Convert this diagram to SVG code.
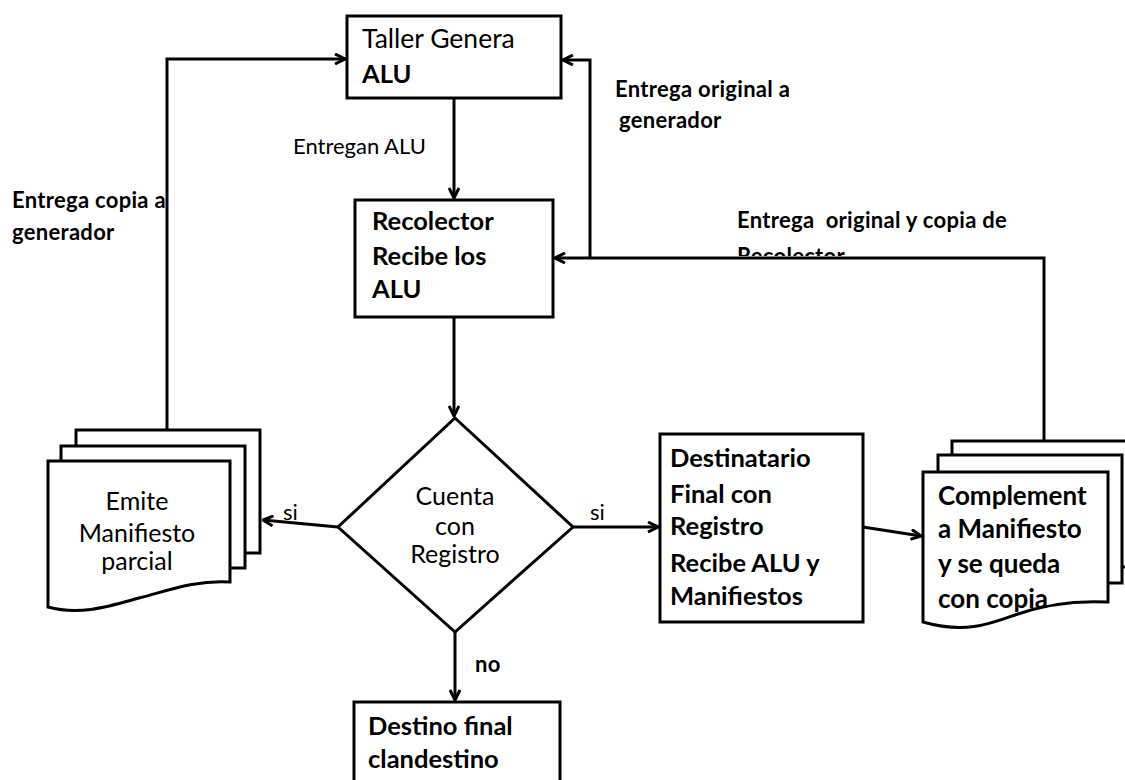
<svg xmlns="http://www.w3.org/2000/svg" width="1125" height="780" viewBox="0 0 1125 780">
  <style>
    .shape { fill: #fff; stroke: #000; stroke-width: 3; }
    .conn { fill: none; stroke: #000; stroke-width: 3; }
    text { font-family: Lato, "Liberation Sans", sans-serif; fill: #000; }
    .box { font-size: 25.5px; font-weight: bold; }
    .boxn { font-size: 25px; font-weight: normal; }
    .lbl { font-size: 22px; font-weight: bold; letter-spacing: 0.3px; }
    .lbln { font-size: 22px; font-weight: normal; }
    .mid { text-anchor: middle; }
  </style>
  <defs>
    <marker id="arrow" markerUnits="userSpaceOnUse" viewBox="0 0 12 12" refX="11" refY="6" markerWidth="12" markerHeight="12" orient="auto">
      <path d="M1,1 L11,6 L1,11" fill="none" stroke="#000" stroke-width="3"/>
    </marker>
    <clipPath id="clipTop">
      <rect x="700" y="200" width="400" height="56"/>
    </clipPath>
  </defs>

  <!-- connectors -->
  <g id="connectors">
    <path class="conn" d="M167,430 V59 H345" marker-end="url(#arrow)"/>
    <path class="conn" d="M454,98 V198" marker-end="url(#arrow)"/>
    <path class="conn" d="M454,317 V416" marker-end="url(#arrow)"/>
    <path class="conn" d="M338,527 L263,520" marker-end="url(#arrow)"/>
    <path class="conn" d="M573,527 H658" marker-end="url(#arrow)"/>
    <path class="conn" d="M863,527 L921,536" marker-end="url(#arrow)"/>
    <path class="conn" d="M455,632 V700" marker-end="url(#arrow)"/>
    <path class="conn" d="M1044,441 V258 H555" marker-end="url(#arrow)"/>
    <path class="conn" d="M590,258 V60 H563" marker-end="url(#arrow)"/>
  </g>

  <!-- connector labels -->
  <g id="labels">
    <text class="lbl" x="12" y="208">Entrega copia a</text>
    <text class="lbl" x="12" y="240">generador</text>
    <text class="lbln" x="293" y="154">Entregan ALU</text>
    <text class="lbl" x="615" y="97">Entrega original a</text>
    <text class="lbl" x="619" y="128">generador</text>
    <text class="lbl" x="737" y="228" xml:space="preserve">Entrega  original y copia de</text>
    <text class="lbl" x="737" y="264" clip-path="url(#clipTop)">Recolector</text>
    <text class="lbln" x="283" y="520">si</text>
    <text class="lbln" x="590" y="520">si</text>
    <text class="lbl" x="475" y="672">no</text>
  </g>

  <g id="taller">
    <rect class="shape" x="347" y="16" width="214" height="82"/>
    <text class="boxn" x="362" y="48" style="font-size:26.5px">Taller Genera</text>
    <text class="box" x="362" y="83">ALU</text>
  </g>

  <g id="recolector">
    <rect class="shape" x="355" y="200" width="198" height="117"/>
    <text class="box" x="372" y="230">Recolector</text>
    <text class="box" x="372" y="265">Recibe los</text>
    <text class="box" x="372" y="298">ALU</text>
  </g>

  <g id="decision">
    <polygon class="shape" points="455,418 573,527 455,632 338,527"/>
    <text class="boxn mid" x="455" y="505">Cuenta</text>
    <text class="boxn mid" x="455" y="535">con</text>
    <text class="boxn mid" x="455" y="563">Registro</text>
  </g>

  <g id="emite">
    <rect class="shape" x="76" y="430" width="184" height="123"/>
    <rect class="shape" x="61" y="446" width="184" height="122"/>
    <path class="shape" d="M48,461 H230 V582 C195,580 170,590 139,598 C110,606 80,616 48,607 Z"/>
    <text class="boxn mid" x="137" y="510">Emite</text>
    <text class="boxn mid" x="137" y="542">Manifiesto</text>
    <text class="boxn mid" x="137" y="570">parcial</text>
  </g>

  <g id="destinatario">
    <rect class="shape" x="660" y="434" width="203" height="188"/>
    <text class="box" x="670" y="467">Destinatario</text>
    <text class="box" x="670" y="503">Final con</text>
    <text class="box" x="670" y="535">Registro</text>
    <text class="box" x="670" y="572">Recibe ALU y</text>
    <text class="box" x="670" y="605">Manifiestos</text>
  </g>

  <g id="complemento">
    <rect class="shape" x="952" y="441" width="190" height="126"/>
    <rect class="shape" x="938" y="455" width="184" height="128"/>
    <path class="shape" d="M923,472 H1108 V602 C1070,600 1040,606 1015,615 C990,624 965,634 923,622 Z"/>
    <text class="box" x="938" y="505" style="font-size:26px">Complement</text>
    <text class="box" x="938" y="538" style="font-size:26px">a Manifiesto</text>
    <text class="box" x="938" y="573" style="font-size:26px">y se queda</text>
    <text class="box" x="938" y="608" style="font-size:26px">con copia</text>
  </g>

  <g id="destino">
    <rect class="shape" x="354" y="702" width="206" height="90"/>
    <text class="box" x="368" y="735">Destino final</text>
    <text class="box" x="368" y="768">clandestino</text>
  </g>
</svg>
